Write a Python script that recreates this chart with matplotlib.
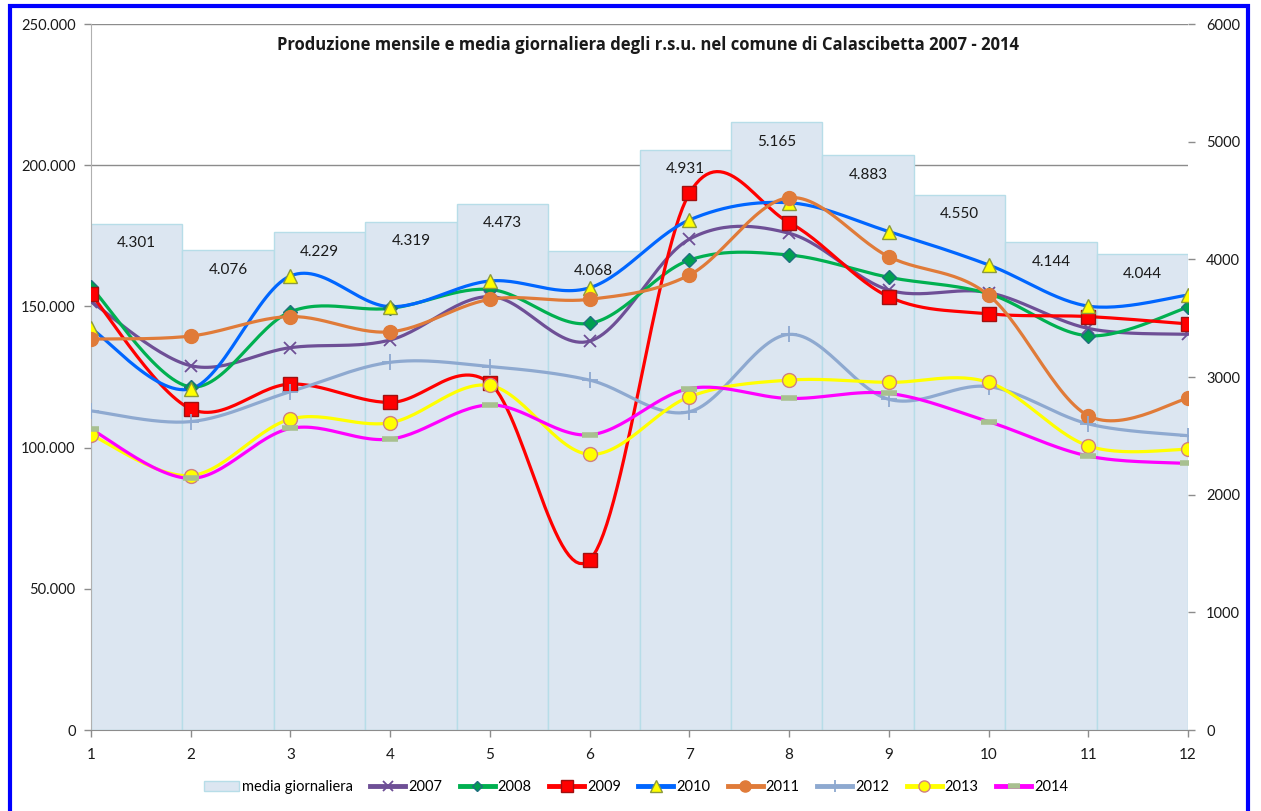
import numpy as np
import matplotlib
matplotlib.use("Agg")
import matplotlib.pyplot as plt
from matplotlib.patches import Rectangle, Patch
from matplotlib.lines import Line2D
from matplotlib.ticker import FuncFormatter

plt.rcParams['font.family'] = ['Lato', 'DejaVu Sans']

# months
mesi = [1, 2, 3, 4, 5, 6, 7, 8, 9, 10, 11, 12]

# media giornaliera (right axis)
media = [4301, 4076, 4229, 4319, 4473, 4068, 4931, 5165, 4883, 4550, 4144, 4044]

# monthly production per year (left axis)
y2007 = [151700, 129000, 135400, 138100, 153500, 137700, 173800, 175900, 155800, 154900, 142200, 140100]
y2008 = [156800, 121500, 148100, 149300, 156000, 144000, 166400, 168200, 160300, 154500, 139600, 149700]
y2009 = [154300, 113700, 122500, 116000, 122800, 60200, 190000, 179700, 153400, 147400, 146400, 143800]
y2010 = [142200, 120800, 160800, 149900, 159000, 156600, 180600, 186700, 176500, 164700, 150100, 154000]
y2011 = [138400, 139500, 146400, 141000, 152500, 152500, 161100, 188500, 167600, 154000, 111300, 117400]
y2012 = [113000, 109200, 119800, 130200, 128700, 123900, 112700, 140100, 117100, 121600, 108400, 104200]
y2013 = [104500, 90100, 110100, 108800, 122000, 97600, 118000, 123900, 123100, 123100, 100600, 99400]
y2014 = [106500, 89100, 106800, 103000, 115100, 104500, 120900, 117400, 119200, 109200, 97000, 94400]

series = [
    ("2007", y2007, dict(color="#6E4F96", marker="x", ms=9, mew=1.3, mfc="#6E4F96", mec="#6E4F96")),
    ("2008", y2008, dict(color="#00B050", marker="D", ms=7, mew=1, mfc="#00A050", mec="#1F6F7F")),
    ("2009", y2009, dict(color="#FF0000", marker="s", ms=10, mew=1, mfc="#FF0000", mec="#A01010")),
    ("2010", y2010, dict(color="#0066FF", marker="^", ms=10, mew=1, mfc="#FFFF00", mec="#8C9A3C")),
    ("2011", y2011, dict(color="#E07B39", marker="o", ms=10, mew=1, mfc="#E07B39", mec="#E07B39")),
    ("2012", y2012, dict(color="#8EA9D0", marker="+", ms=11, mew=1.3, mfc="#8EA9D0", mec="#8EA9D0")),
    ("2013", y2013, dict(color="#FFFF00", marker="o", ms=10, mew=1, mfc="#FFFF00", mec="#D08080")),
    ("2014", y2014, dict(color="#FF00FF", marker="_", ms=11, mew=4, mfc="#A8C090", mec="#A8C090")),
]


def smooth(xs, ys, n=30):
    # Excel-like smoothed line: bezier segments with 1/6 tangents
    xs = np.asarray(xs, float)
    ys = np.asarray(ys, float)
    px = np.concatenate([[xs[0]], xs, [xs[-1]]])
    py = np.concatenate([[ys[0]], ys, [ys[-1]]])
    outx, outy = [], []
    t = np.linspace(0, 1, n)
    for i in range(1, len(px) - 2):
        x0, y0 = px[i], py[i]
        x3, y3 = px[i + 1], py[i + 1]
        x1 = x0 + (px[i + 1] - px[i - 1]) / 6
        y1 = y0 + (py[i + 1] - py[i - 1]) / 6
        x2 = x3 - (px[i + 2] - px[i]) / 6
        y2 = y3 - (py[i + 2] - py[i]) / 6
        bx = (1 - t) ** 3 * x0 + 3 * (1 - t) ** 2 * t * x1 + 3 * (1 - t) * t ** 2 * x2 + t ** 3 * x3
        by = (1 - t) ** 3 * y0 + 3 * (1 - t) ** 2 * t * y1 + 3 * (1 - t) * t ** 2 * y2 + t ** 3 * y3
        outx.extend(bx)
        outy.extend(by)
    return np.array(outx), np.array(outy)


W, H = 1261, 811
fig = plt.figure(figsize=(W / 100, H / 100), dpi=100)
ax = fig.add_axes([91 / W, 1 - 730 / H, (1188 - 91) / W, (730 - 24) / H])
ax2 = ax.twinx()
ax.set_zorder(ax2.get_zorder() + 1)
ax.patch.set_visible(False)
ax2.patch.set_facecolor("white")

left_max, right_max = 250000, 6000
ax.set_xlim(1, 12)
ax.set_ylim(0, left_max)
ax2.set_ylim(0, right_max)

# gridlines drawn behind the columns
for v in range(0, left_max + 1, 50000):
    if v > 0:
        ax2.axhline(v * right_max / left_max, color="#8C8C8C", lw=1, zorder=0)

# media giornaliera columns
bw = 11 / 12
edges = 1 + np.arange(len(media)) * bw
ax2.bar(edges, media, width=bw, align="edge", color="#DCE6F1", edgecolor="#B7DDE8",
        linewidth=1, zorder=1)
for e, v in zip(edges, media):
    ax2.annotate(f"{v:,}".replace(",", "."), xy=(e + bw / 2, v), xytext=(0, -14),
                 textcoords="offset points", ha="center", va="center", fontsize=11,
                 color="#1A1A1A", zorder=2)

for name, vals, st in series:
    sx, sy = smooth(mesi, vals)
    ax.plot(sx, sy, color=st["color"], lw=2.3, zorder=3, solid_capstyle="round")
    ax.plot(mesi, vals, ls="none", marker=st["marker"], ms=st["ms"], mew=st["mew"],
            mfc=st["mfc"], mec=st["mec"], zorder=4)

ax.set_xticks(mesi)
ax.set_yticks(range(0, left_max + 1, 50000))
ax.yaxis.set_major_formatter(FuncFormatter(lambda v, p: f"{int(v):,}".replace(",", ".")))
ax2.set_yticks(range(0, right_max + 1, 1000))

for a in (ax, ax2):
    for s in a.spines.values():
        s.set_visible(False)
    a.tick_params(colors="#8C8C8C", labelcolor="#1A1A1A", labelsize=10.5, length=5, width=1)
ax.spines["left"].set_visible(True)
ax.spines["left"].set_color("#B0B0B0")
ax.spines["bottom"].set_visible(True)
ax.spines["bottom"].set_color("#8C8C8C")
ax.tick_params(axis="x", pad=8, labelsize=11)
ax.tick_params(axis="y", pad=6)
ax2.tick_params(axis="y", pad=8)

fig.text(648 / W, 1 - 45 / H,
         "Produzione mensile e media giornaliera degli r.s.u. nel comune di Calascibetta 2007 - 2014",
         ha="center", va="center", fontsize=12, fontweight="bold", color="#1A1A1A",
         family=["Open Sans", "DejaVu Sans"])

handles = [Patch(facecolor="#DCE6F1", edgecolor="#B7DDE8", label="media giornaliera")]
for name, vals, st in series:
    handles.append(Line2D([], [], color=st["color"], lw=3.5, marker=st["marker"],
                          ms=st["ms"] * 0.8, mew=st["mew"], mfc=st["mfc"], mec=st["mec"],
                          label=name))
fig.legend(handles=handles, loc="center", bbox_to_anchor=(636 / W, 1 - 787 / H), ncol=9,
           frameon=False, fontsize=10.5, handlelength=2.4, handletextpad=0.2,
           columnspacing=1.2)

# blue frame round the chart
fig.add_artist(Rectangle((9.5 / W, -0.05), (1248 - 9.5) / W, 1.05 - 6 / H,
                         transform=fig.transFigure, fill=False, edgecolor="#0000FF", lw=3))

fig.savefig("out.png", dpi=100)
